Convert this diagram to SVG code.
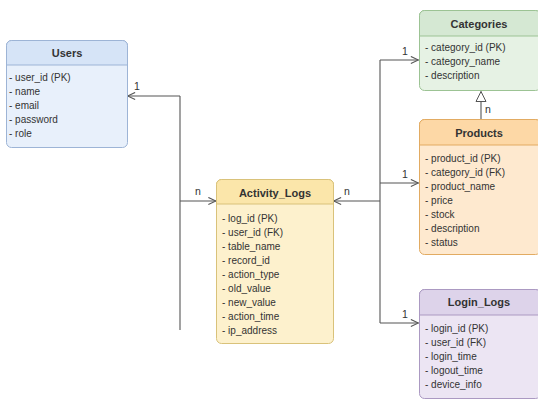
<svg xmlns="http://www.w3.org/2000/svg" width="538" height="399" viewBox="0 0 538 399">
<defs>
<marker id="open" viewBox="0 0 10 10" refX="9.5" refY="5" markerWidth="9" markerHeight="9" markerUnits="userSpaceOnUse" orient="auto">
<path d="M1,1 L9.5,5 L1,9" fill="none" stroke="#555" stroke-width="1.2"/>
</marker>
<marker id="tri" viewBox="0 0 12 12" refX="11" refY="6" markerWidth="12" markerHeight="12" markerUnits="userSpaceOnUse" orient="auto">
<path d="M1,1 L11,6 L1,11 Z" fill="#fff" stroke="#555" stroke-width="1"/>
</marker>
</defs>
<style>
text{font-family:"Liberation Sans",Arial,sans-serif;fill:#333}
.t{font-size:11px;font-weight:bold;text-anchor:middle}
.r{font-size:10px}
.lb{font-size:10.5px;fill:#333}
.c{fill:none;stroke:#555;stroke-width:1.1}
</style>
<rect width="538" height="399" fill="#ffffff"/>
<g id="connectors">
<path class="c" d="M180,96 H127.5" marker-end="url(#open)"/>
<path class="c" d="M180,96 V330"/>
<path class="c" d="M180,201 H216" marker-end="url(#open)"/>
<path class="c" d="M380,201 H333.5" marker-end="url(#open)"/>
<path class="c" d="M380,60 V323"/>
<path class="c" d="M380,60 H418.5" marker-end="url(#open)"/>
<path class="c" d="M380,183 H418.5" marker-end="url(#open)"/>
<path class="c" d="M380,323 H418.5" marker-end="url(#open)"/>
<path class="c" d="M481,119 V91.5" marker-end="url(#tri)"/>
<text class="lb" x="134" y="90">1</text>
<text class="lb" x="195" y="195">n</text>
<text class="lb" x="344" y="195">n</text>
<text class="lb" x="402" y="55">1</text>
<text class="lb" x="402" y="178">1</text>
<text class="lb" x="402" y="318">1</text>
<text class="lb" x="485" y="113">n</text>
</g>
<g id="users">
<rect x="6.5" y="40.5" width="121" height="107" rx="5" fill="#e8f0fb" stroke="#9db4d6"/>
<path d="M6.5,65 V45.5 a5,5 0 0 1 5,-5 H122.5 a5,5 0 0 1 5,5 V65 Z" fill="#d6e4f7" stroke="#9db4d6"/>
<text class="t" x="67" y="57">Users</text>
<text class="r" x="9" y="81">- user_id (PK)</text>
<text class="r" x="9" y="95">- name</text>
<text class="r" x="9" y="109">- email</text>
<text class="r" x="9" y="123">- password</text>
<text class="r" x="9" y="137">- role</text>
</g>
<g id="activity_logs">
<rect x="216.5" y="179.5" width="117" height="164" rx="5" fill="#fdf1cd" stroke="#d9c27a"/>
<path d="M216.5,204 V184.5 a5,5 0 0 1 5,-5 H328.5 a5,5 0 0 1 5,5 V204 Z" fill="#fbe6aa" stroke="#d9c27a"/>
<text class="t" x="275" y="197">Activity_Logs</text>
<text class="r" x="222" y="222">- log_id (PK)</text>
<text class="r" x="222" y="236">- user_id (FK)</text>
<text class="r" x="222" y="250">- table_name</text>
<text class="r" x="222" y="264">- record_id</text>
<text class="r" x="222" y="278">- action_type</text>
<text class="r" x="222" y="292">- old_value</text>
<text class="r" x="222" y="306">- new_value</text>
<text class="r" x="222" y="320">- action_time</text>
<text class="r" x="222" y="334">- ip_address</text>
</g>
<g id="categories">
<rect x="419.5" y="10.5" width="121" height="80" rx="5" fill="#e6f2e4" stroke="#9cc394"/>
<path d="M419.5,36 V15.5 a5,5 0 0 1 5,-5 H535.5 a5,5 0 0 1 5,5 V36 Z" fill="#d5e8d3" stroke="#9cc394"/>
<text class="t" x="479" y="28">Categories</text>
<text class="r" x="425" y="51">- category_id (PK)</text>
<text class="r" x="425" y="65">- category_name</text>
<text class="r" x="425" y="79">- description</text>
</g>
<g id="products">
<rect x="419.5" y="119.5" width="121" height="135" rx="5" fill="#fee9cf" stroke="#e2ab62"/>
<path d="M419.5,145 V124.5 a5,5 0 0 1 5,-5 H535.5 a5,5 0 0 1 5,5 V145 Z" fill="#fdd8a6" stroke="#e2ab62"/>
<text class="t" x="479" y="137">Products</text>
<text class="r" x="425" y="162">- product_id (PK)</text>
<text class="r" x="425" y="176">- category_id (FK)</text>
<text class="r" x="425" y="190">- product_name</text>
<text class="r" x="425" y="204">- price</text>
<text class="r" x="425" y="218">- stock</text>
<text class="r" x="425" y="232">- description</text>
<text class="r" x="425" y="246">- status</text>
</g>
<g id="login_logs">
<rect x="419.5" y="289.5" width="121" height="109" rx="5" fill="#ece5f3" stroke="#ab99c2"/>
<path d="M419.5,315 V294.5 a5,5 0 0 1 5,-5 H535.5 a5,5 0 0 1 5,5 V315 Z" fill="#ddd3ea" stroke="#ab99c2"/>
<text class="t" x="479" y="306">Login_Logs</text>
<text class="r" x="425" y="332">- login_id (PK)</text>
<text class="r" x="425" y="346">- user_id (FK)</text>
<text class="r" x="425" y="360">- login_time</text>
<text class="r" x="425" y="374">- logout_time</text>
<text class="r" x="425" y="388">- device_info</text>
</g>
</svg>
